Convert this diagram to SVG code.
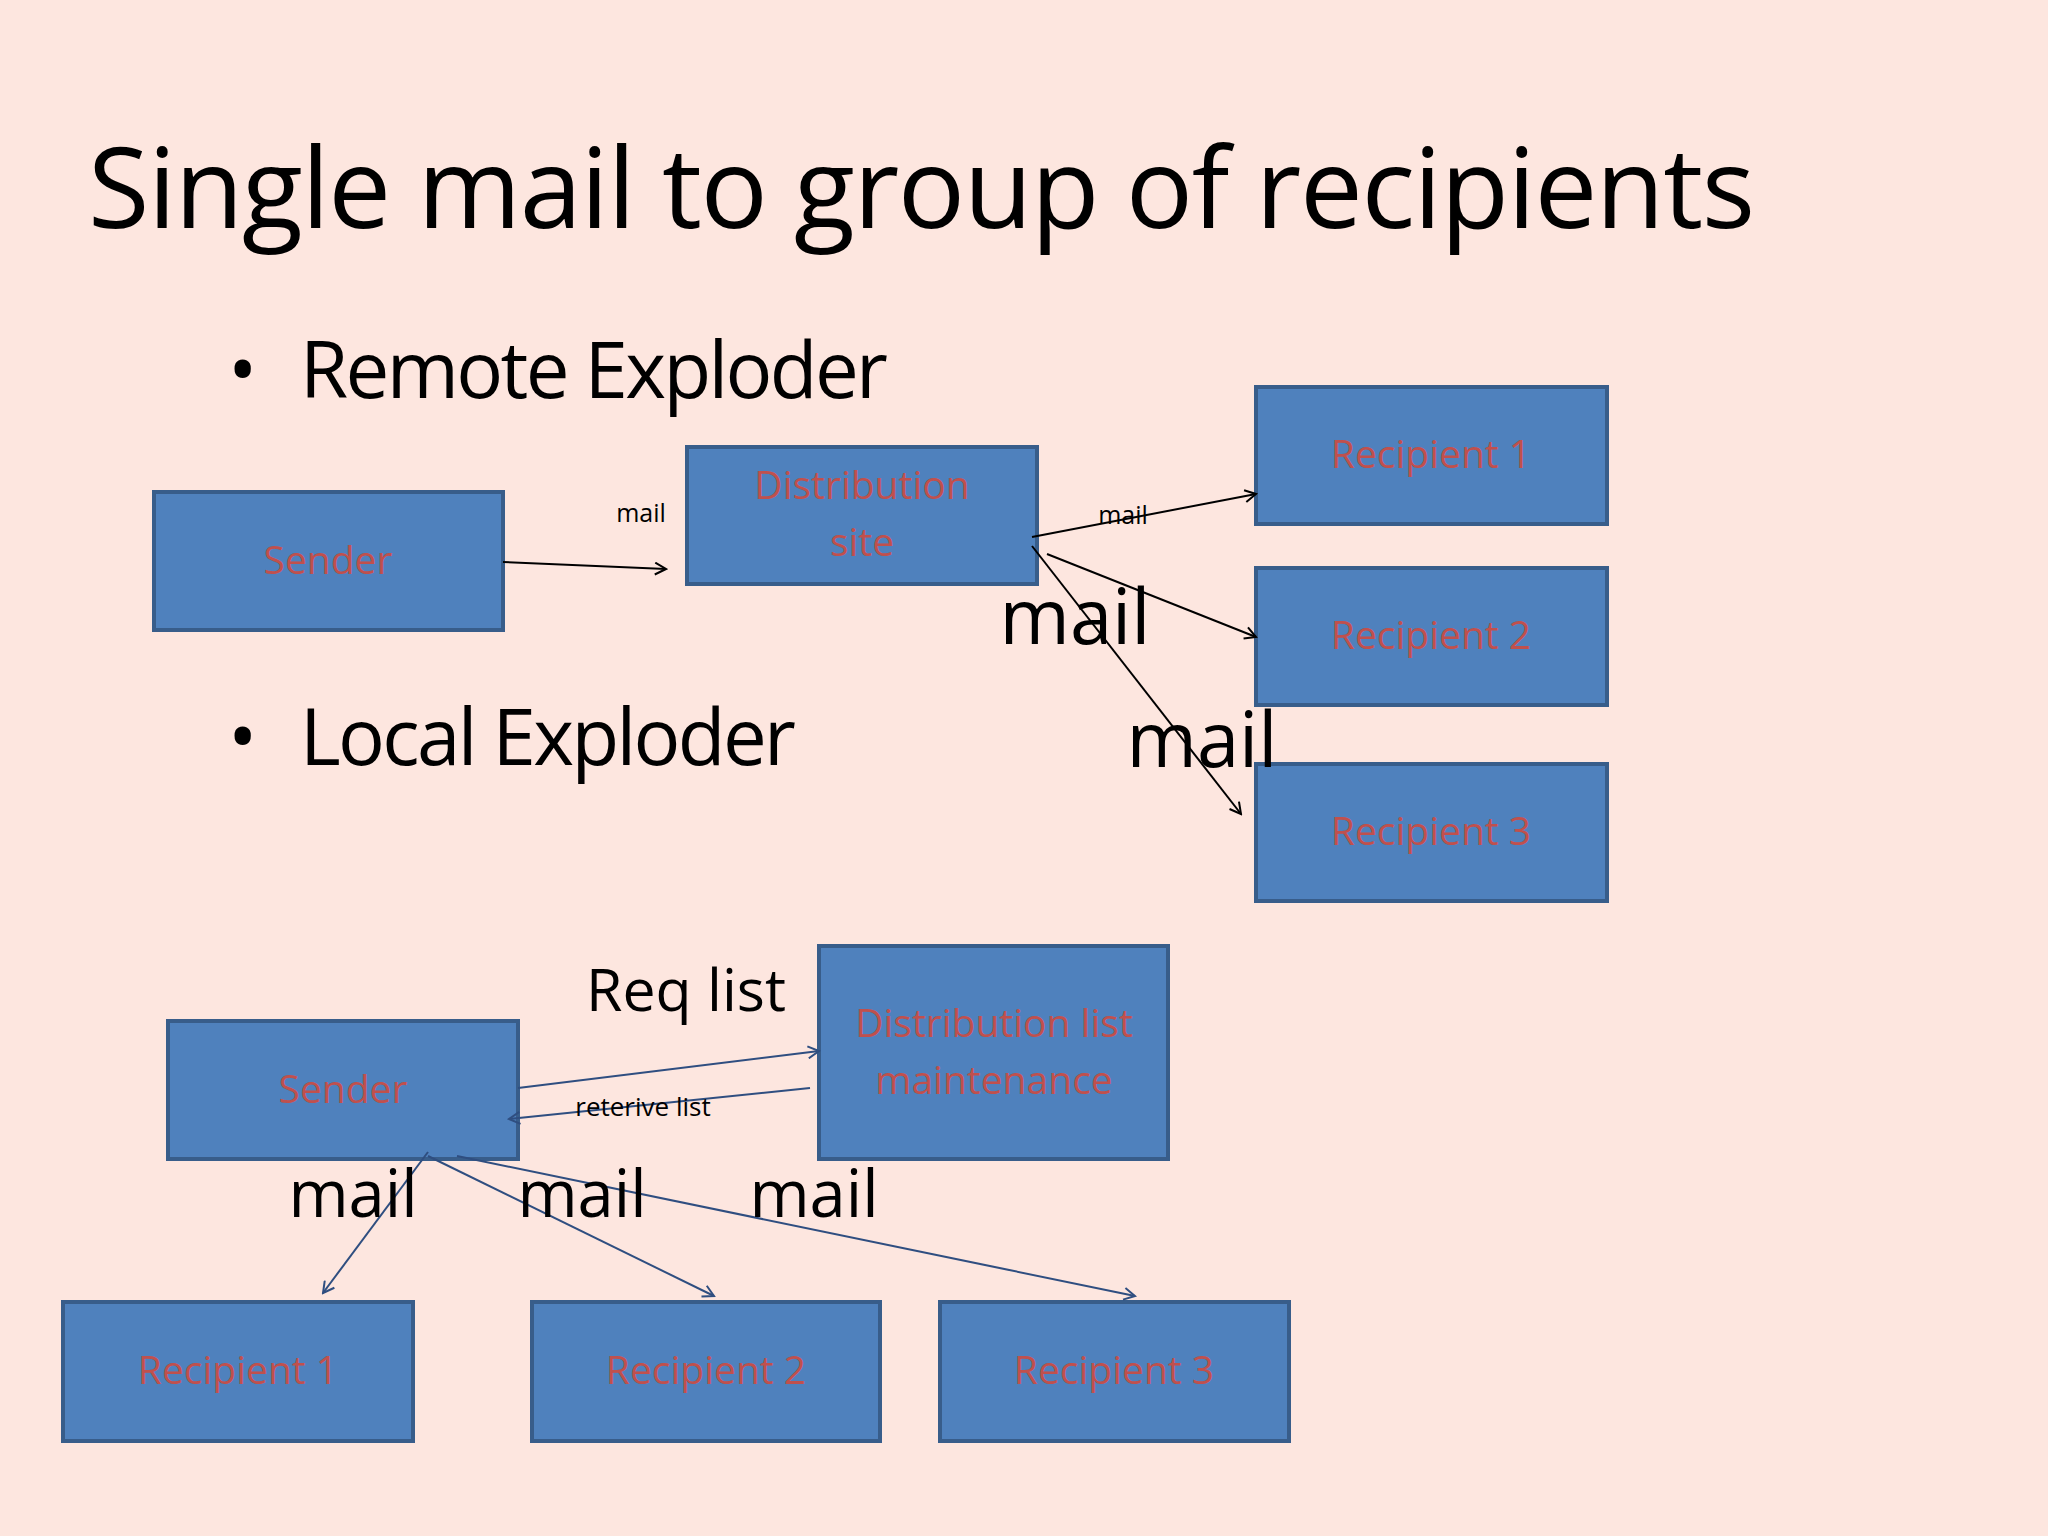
<svg xmlns="http://www.w3.org/2000/svg" width="2048" height="1536" viewBox="0 0 2048 1536">
<style>
.box{fill:#4F81BD;stroke:#385D8A;stroke-width:4}
.bt{font-family:"Open Sans","Liberation Sans",sans-serif;font-size:39px;fill:#C0504D;text-anchor:middle}
.t{font-family:"Open Sans","Liberation Sans",sans-serif;fill:#000}
.k{stroke:#000;stroke-width:2;fill:none}
.b{stroke:#2F4E80;stroke-width:2;fill:none}
</style>
<defs>
<marker id="ak" markerWidth="14" markerHeight="14" refX="12" refY="7" orient="auto" markerUnits="userSpaceOnUse"><path d="M1,1 L12,7 L1,13" fill="none" stroke="#000" stroke-width="2"/></marker>
<marker id="ab" markerWidth="14" markerHeight="14" refX="12" refY="7" orient="auto" markerUnits="userSpaceOnUse"><path d="M1,1 L12,7 L1,13" fill="none" stroke="#2F4E80" stroke-width="2"/></marker>
</defs>
<rect width="2048" height="1536" fill="#FDE6DF"/>
<text class="t" x="88" y="228" font-size="112" textLength="1667">Single mail to group of recipients</text>
<text class="t" x="228" y="398" font-size="78">•</text>
<text class="t" x="300" y="398" font-size="78" textLength="588">Remote Exploder</text>
<text class="t" x="228" y="765" font-size="78">•</text>
<text class="t" x="300" y="765" font-size="78" textLength="496">Local Exploder</text>
<g id="sender1"><rect class="box" x="154" y="492" width="349" height="138"/><text class="bt" x="328" y="574">Sender</text></g>
<g id="dist"><rect class="box" x="687" y="447" width="350" height="137"/><text class="bt" x="862" y="499">Distribution</text><text class="bt" x="862" y="556">site</text></g>
<g id="r1"><rect class="box" x="1256" y="387" width="351" height="137"/><text class="bt" x="1431" y="468">Recipient 1</text></g>
<g id="r2"><rect class="box" x="1256" y="568" width="351" height="137"/><text class="bt" x="1431" y="649">Recipient 2</text></g>
<g id="r3"><rect class="box" x="1256" y="764" width="351" height="137"/><text class="bt" x="1431" y="845">Recipient 3</text></g>
<g id="distlist"><rect class="box" x="819" y="946" width="349" height="213"/><text class="bt" x="994" y="1037">Distribution list</text><text class="bt" x="994" y="1094">maintenance</text></g>
<g id="sender2"><rect class="box" x="168" y="1021" width="350" height="138"/><text class="bt" x="343" y="1103">Sender</text></g>
<g id="br1"><rect class="box" x="63" y="1302" width="350" height="139"/><text class="bt" x="238" y="1384">Recipient 1</text></g>
<g id="br2"><rect class="box" x="532" y="1302" width="348" height="139"/><text class="bt" x="706" y="1384">Recipient 2</text></g>
<g id="br3"><rect class="box" x="940" y="1302" width="349" height="139"/><text class="bt" x="1114" y="1384">Recipient 3</text></g>
<g id="connectors">
<line class="k" x1="503" y1="562" x2="666" y2="569" marker-end="url(#ak)"/>
<line class="k" x1="1032" y1="537" x2="1256" y2="494" stroke-width="3" marker-end="url(#ak)"/>
<line class="k" x1="1047" y1="554" x2="1256" y2="637" marker-end="url(#ak)"/>
<line class="k" x1="1032" y1="546" x2="1241" y2="814" marker-end="url(#ak)"/>
<line class="b" x1="518" y1="1088" x2="819" y2="1051" marker-end="url(#ab)"/>
<line class="b" x1="810" y1="1088" x2="509" y2="1119" marker-end="url(#ab)"/>
<line class="b" x1="428" y1="1152" x2="323" y2="1293" marker-end="url(#ab)"/>
<line class="b" x1="428" y1="1156" x2="714" y2="1296" marker-end="url(#ab)"/>
<line class="b" x1="457" y1="1156" x2="1135" y2="1296" marker-end="url(#ab)"/>
</g>
<g class="t" text-anchor="middle">
<text x="641" y="522" font-size="25">mail</text>
<text x="1123" y="524" font-size="25">mail</text>
<text x="1075" y="644" font-size="76">mail</text>
<text x="1202" y="767" font-size="76">mail</text>
<text x="686" y="1011" font-size="59">Req list</text>
<text x="643" y="1116" font-size="26">reterive list</text>
<text x="353" y="1217" font-size="65">mail</text>
<text x="582" y="1217" font-size="65">mail</text>
<text x="814" y="1217" font-size="65">mail</text>
</g>
</svg>
